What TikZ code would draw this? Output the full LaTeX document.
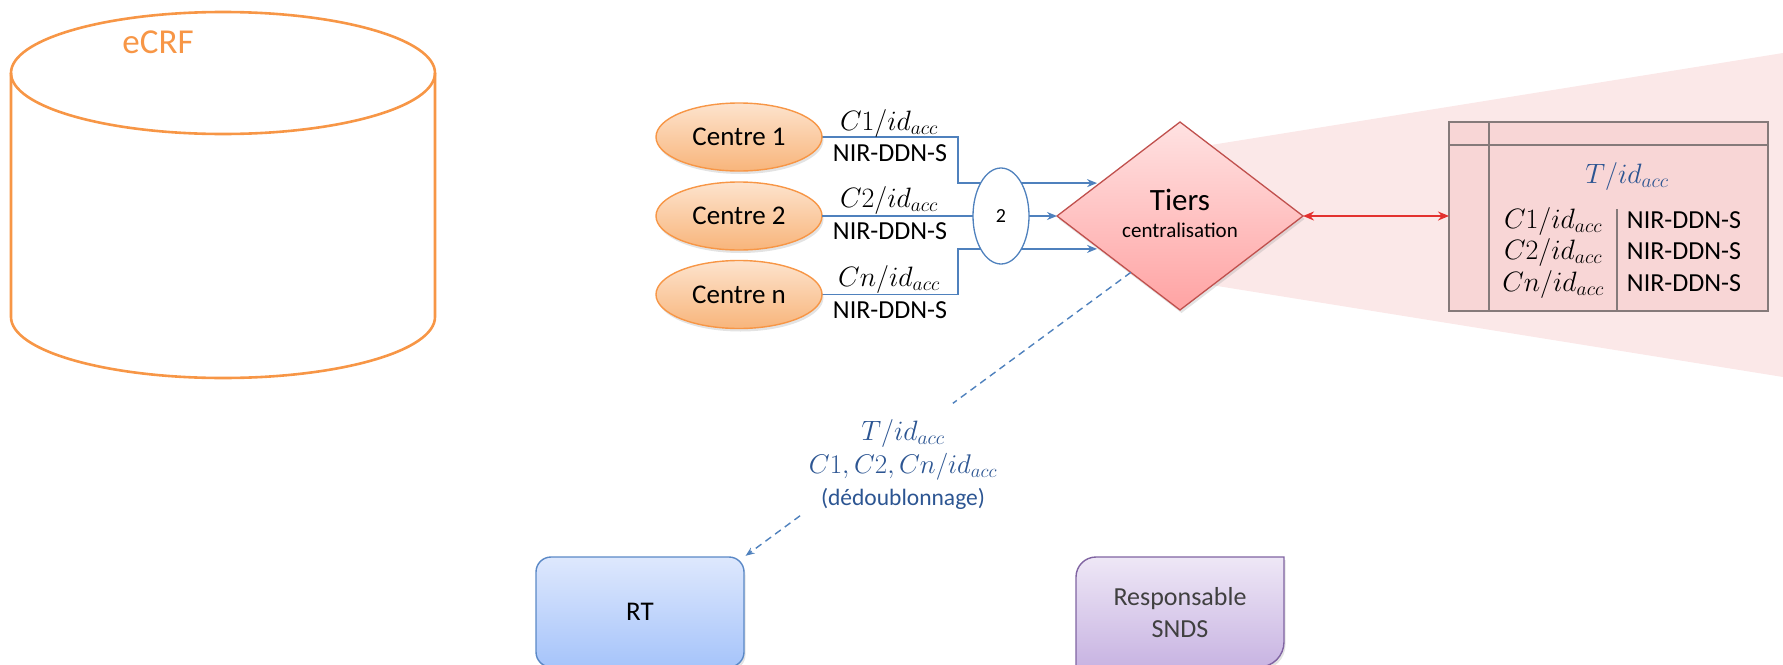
\RequirePackage{fix-cm}
\documentclass[tikz,border=0pt]{standalone}
\usepackage{fontspec}
\setmainfont{Carlito}
\usetikzlibrary{shapes.geometric,arrows.meta,calc,shadows}

\definecolor{ecrforange}{HTML}{F79646}
\definecolor{centretop}{HTML}{FDE3CD}
\definecolor{centrebot}{HTML}{F8B57B}
\definecolor{flowblue}{HTML}{4F81BD}
\definecolor{labelblue}{HTML}{2C5592}
\definecolor{tierstop}{HTML}{FFE2E2}
\definecolor{tiersbot}{HTML}{FFA3A3}
\definecolor{tiersedge}{HTML}{C0504D}
\definecolor{fanpink}{HTML}{FBE8E8}
\definecolor{tablefill}{HTML}{F8D6D6}
\definecolor{tableedge}{HTML}{857A7A}
\definecolor{linkred}{HTML}{E3312F}
\definecolor{rttop}{HTML}{DEE8FD}
\definecolor{rtbot}{HTML}{A6C4FA}
\definecolor{rtedge}{HTML}{5A88C6}
\definecolor{sndstop}{HTML}{EEE7F6}
\definecolor{sndsbot}{HTML}{C8B4E2}
\definecolor{sndsedge}{HTML}{8064A2}
\definecolor{darktext}{HTML}{404040}

\newcommand\sz[1]{\fontsize{#1}{#1}\selectfont}

\pgfdeclarelayer{bg}
\pgfsetlayers{bg,main}

\begin{document}
\begin{tikzpicture}[x=1pt,y=-1pt,
  every node/.style={inner sep=0pt,outer sep=0pt},
  softshadow/.style={drop shadow={opacity=0.22,shadow xshift=1.5pt,shadow yshift=-3pt}},
  store/.style={draw=ecrforange,line width=2.6pt},
  centre/.style={ellipse,draw=ecrforange,line width=1.4pt,top color=centretop,
    bottom color=centrebot,minimum width=166pt,minimum height=68pt,font=\sz{27},softshadow},
  junction/.style={ellipse,draw=flowblue,line width=1.3pt,fill=white,
    minimum width=56pt,minimum height=96pt,font=\sz{20}},
  tiersbox/.style={diamond,aspect=1.3,draw=tiersedge,line width=1.3pt,top color=tierstop,
    bottom color=tiersbot,minimum width=246pt,minimum height=188pt,softshadow},
  tablebox/.style={rectangle,draw=tableedge,line width=2pt,fill=tablefill,
    minimum width=319pt,minimum height=189pt},
  tblrule/.style={draw=tableedge,line width=2pt},
  tblthin/.style={draw=tableedge,line width=1.2pt},
  flow/.style={draw=flowblue,line width=1.5pt},
  flowarrow/.style={flow,-{Stealth[length=10pt,width=8pt]}},
  dashflow/.style={draw=flowblue,line width=1.4pt,dash pattern=on 7pt off 5pt},
  redlink/.style={draw=linkred,line width=2pt,
    {Stealth[length=11pt,width=9pt]}-{Stealth[length=11pt,width=9pt]}},
  mathlbl/.style={anchor=base,font=\sz{28}},
  nirlbl/.style={anchor=base,font=\sz{26}},
  rtbox/.style={rectangle,rounded corners=15pt,draw=rtedge,line width=1.4pt,top color=rttop,
    bottom color=rtbot,minimum width=208pt,minimum height=110pt,font=\sz{27},softshadow},
  sndsshape/.style={draw=sndsedge,line width=1.4pt,top color=sndstop,bottom color=sndsbot}
]
\useasboundingbox (0,0) rectangle (1783,664);
\clip (0,0) rectangle (1783,664);

% eCRF data store
\draw[store] (11,73) -- (11,317) arc[start angle=180,end angle=0,x radius=212,y radius=61] -- (435,73);
\draw[store] (223,73) ellipse [x radius=212,y radius=61];
\node[anchor=base,text=ecrforange,font=\sz{35}] (ecrf) at (158,53) {eCRF};

% investigation centres
\node[centre] (c1) at (739,137) {Centre 1};
\node[centre] (c2) at (739,216) {Centre 2};
\node[centre] (cn) at (739,294.5) {Centre n};

% identifiers carried on each link
\node[mathlbl] (c1id) at (889,130) {$C1/id_{acc}$};
\node[nirlbl] (c1nir) at (890,161.5) {NIR-DDN-S};
\node[mathlbl] (c2id) at (889,207) {$C2/id_{acc}$};
\node[nirlbl] (c2nir) at (890,239) {NIR-DDN-S};
\node[mathlbl] (cnid) at (889,286.5) {$Cn/id_{acc}$};
\node[nirlbl] (cnnir) at (890,318) {NIR-DDN-S};

% trusted third party
\node[tiersbox] (tiers) at (1180,216) {};
\node[anchor=base,font=\sz{31}] (tiersname) at (1180,210) {Tiers};
\node[anchor=base,font=\sz{21}] (tiersrole) at (1180,237) {centralisation};

% correspondence table
\node[tablebox] (tbl) at (1608.5,216) {};
\draw[tblrule] ($(tbl.north west)+(0,23.5)$) -- ($(tbl.north east)+(0,23.5)$);
\draw[tblrule] ($(tbl.north west)+(40,0)$) -- ($(tbl.south west)+(40,0)$);
\draw[tblthin] ($(tbl.south west)+(168,0)$) -- ++(0,-102);
\node[mathlbl,text=labelblue] (tblT) at (1627,183) {$T/id_{acc}$};
\node[mathlbl] (tblc1) at (1553,228) {$C1/id_{acc}$};
\node[mathlbl] (tblc2) at (1553,259.5) {$C2/id_{acc}$};
\node[mathlbl] (tblcn) at (1553,291) {$Cn/id_{acc}$};
\node[nirlbl] (tblnir1) at (1684,228) {NIR-DDN-S};
\node[nirlbl] (tblnir2) at (1684,259.5) {NIR-DDN-S};
\node[nirlbl] (tblnir3) at (1684,291) {NIR-DDN-S};

% recipients
\node[rtbox] (rt) at (640,612) {RT};
\node[minimum width=208pt,minimum height=110pt] (snds) at (1180,612) {};
\path[sndsshape,drop shadow={opacity=0.22,shadow xshift=1.5pt,shadow yshift=-3pt}]
  (snds.south west) -- ($(snds.north west)+(0,20)$)
  arc[start angle=180,end angle=270,radius=20]
  -- (snds.north east) -- ($(snds.south east)+(0,-25)$)
  arc[start angle=0,end angle=90,radius=25] -- cycle;
\node[anchor=base,font=\sz{26},text=darktext] (sndsA) at (1180,605) {Responsable};
\node[anchor=base,font=\sz{26},text=darktext] (sndsB) at (1180,637) {SNDS};

% points on the diamond border
\coordinate (t1) at ($(tiers.west)!0.35!(tiers.north)$);
\coordinate (t3) at ($(tiers.west)!0.35!(tiers.south)$);
\coordinate (t4) at ($(tiers.west)!0.6!(tiers.south)$);

\begin{pgfonlayer}{bg}
  % zoom cone behind the table
  \fill[fanpink] (1180,150) -- (1783,53) -- (1783,377) -- (1180,280) -- cycle;
  \draw[flowarrow,shorten >=3pt] (c1.east) -- ++(136,0) |- (t1);
  \draw[flowarrow,shorten >=3pt] (cn.east) -- ++(136,0) |- (t3);
\end{pgfonlayer}

\node[junction] (two) at (1001,216) {2};
\draw[flow] (c2.east) -- (two.west);
\draw[flowarrow] (two.east) -- (tiers.west);

\draw[redlink] (tiers.east) -- (tbl.west);

% pseudonymised export towards RT
\coordinate (gapA) at ($(t4)!0.46!(rt.north east)$);
\coordinate (gapB) at ($(t4)!0.855!(rt.north east)$);
\draw[dashflow] (t4) -- (gapA);
\draw[dashflow,-{Stealth[length=9pt,width=7pt]},shorten >=2pt] (gapB) -- (rt.north east);
\node[mathlbl,text=labelblue] (expT) at (903,440) {$T/id_{acc}$};
\node[anchor=base,font=\sz{27},text=labelblue] (expC) at (903,473) {$C1,C2,Cn/id_{acc}$};
\node[anchor=base,font=\sz{23.5},text=labelblue] (expD) at (903,505) {(dédoublonnage)};
\end{tikzpicture}
\end{document}
